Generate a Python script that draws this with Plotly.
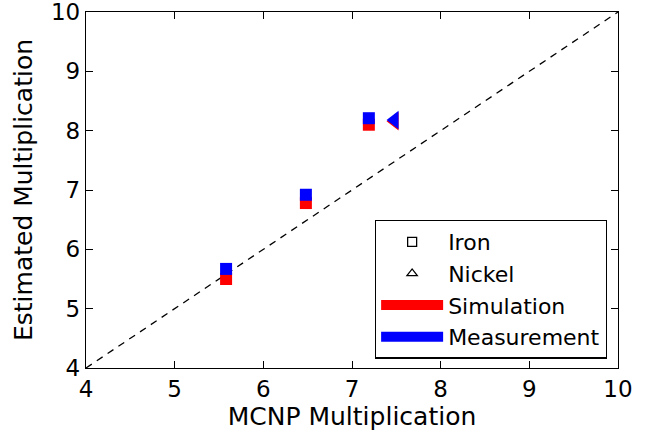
import plotly.graph_objects as go

# Data
iron_mcnp = [5.58, 6.48, 7.19]
iron_sim = [5.50, 6.78, 8.10]
iron_meas = [5.67, 6.92, 8.21]

nickel_mcnp = [7.48]
nickel_sim = [8.16]
nickel_meas = [8.18]

diag = [4, 10]

x_ticks = [4, 5, 6, 7, 8, 9, 10]
y_ticks = [4, 5, 6, 7, 8, 9, 10]

RED = "#ff0000"
BLUE = "#0000ff"
FONT = "DejaVu Sans, sans-serif"

fig = go.Figure()

# dashed diagonal
fig.add_trace(go.Scatter(x=diag, y=diag, mode="lines",
                         line=dict(color="black", width=1.3, dash="7px,6px"),
                         showlegend=False, hoverinfo="skip"))

# Simulation (red) under Measurement (blue)
fig.add_trace(go.Scatter(x=iron_mcnp, y=iron_sim, mode="markers",
                         marker=dict(symbol="square", size=12, color=RED,
                                     line=dict(width=0)), showlegend=False))
fig.add_trace(go.Scatter(x=nickel_mcnp, y=nickel_sim, mode="markers",
                         marker=dict(symbol="triangle-left", size=16, color=RED,
                                     line=dict(width=0)), showlegend=False))
fig.add_trace(go.Scatter(x=iron_mcnp, y=iron_meas, mode="markers",
                         marker=dict(symbol="square", size=12, color=BLUE,
                                     line=dict(width=0)), showlegend=False))
fig.add_trace(go.Scatter(x=nickel_mcnp, y=nickel_meas, mode="markers",
                         marker=dict(symbol="triangle-left", size=16, color=BLUE,
                                     line=dict(width=0)), showlegend=False))

# Legend-only entries
fig.add_trace(go.Scatter(x=[None], y=[None], mode="markers", name="Iron",
                         marker=dict(symbol="square-open", size=9, color="black",
                                     line=dict(width=1.3))))
fig.add_trace(go.Scatter(x=[None], y=[None], mode="markers", name="Nickel",
                         marker=dict(symbol="triangle-up-open", size=9, color="black",
                                     line=dict(width=1.3))))
fig.add_trace(go.Scatter(x=[None], y=[None], mode="lines", name="Simulation",
                         line=dict(color=RED, width=12)))
fig.add_trace(go.Scatter(x=[None], y=[None], mode="lines", name="Measurement",
                         line=dict(color=BLUE, width=12)))

axis_common = dict(
    showgrid=False, zeroline=False, showline=True, linecolor="black", linewidth=1.3,
    mirror="ticks", ticks="inside", ticklen=7, tickwidth=1, tickcolor="black",
    tickfont=dict(family=FONT, size=23, color="black"), automargin=False,
    ticklabeloverflow="allow",
)

fig.update_layout(
    width=658, height=434,
    margin=dict(l=86, r=40, t=12, b=66),
    paper_bgcolor="white", plot_bgcolor="white",
    font=dict(family=FONT, color="black"),
    xaxis=dict(range=[4, 10], tickvals=x_ticks, ticktext=[str(v) for v in x_ticks],
               title=dict(text="MCNP Multiplication", font=dict(size=25), standoff=4),
               **axis_common),
    yaxis=dict(range=[4, 10], tickvals=y_ticks, ticktext=[str(v) for v in y_ticks],
               title=dict(text="Estimated Multiplication", font=dict(size=25), standoff=11),
               **axis_common),
    legend=dict(x=0.979, y=0.026, xanchor="right", yanchor="bottom",
                bgcolor="white", bordercolor="black", borderwidth=1.3,
                font=dict(family=FONT, size=22, color="black"),
                itemwidth=62, tracegroupgap=0),
    showlegend=True,
)

fig.write_html("out.html")
